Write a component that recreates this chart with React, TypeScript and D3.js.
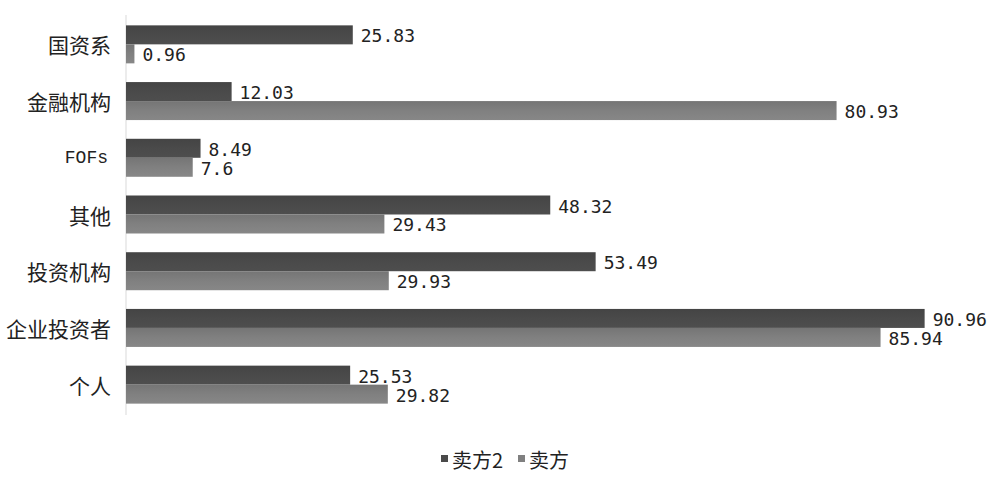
import React from 'react';
import * as d3 from 'd3';

const categories = ['国资系', '金融机构', 'FOFs', '其他', '投资机构', '企业投资者', '个人'];
const seller2 = [25.83, 12.03, 8.49, 48.32, 53.49, 90.96, 25.53];
const seller = [0.96, 80.93, 7.6, 29.43, 29.93, 85.94, 29.82];
const seriesNames = ['卖方2', '卖方'];
const seriesColors = ['#4a4a4a', '#808080'];

const W = 995;
const H = 477;

// latin-only labels are drawn in a mono face, like the half-width glyphs of the source
const isLatin = (s: string) => /^[\x00-\x7f]+$/.test(s);

const App: React.FC = () => {
  const x = d3.scaleLinear().domain([0, 100]).range([126, 1004]);
  const y = d3.scaleBand<string>().domain(categories).range([16, 413]).paddingInner(0.33).paddingOuter(0.165);
  const sub = d3.scaleBand<number>().domain([0, 1]).range([0, y.bandwidth()]);
  const fmt = (v: number) => String(v);

  return (
    <svg width={W} height={H} style={{ position: 'absolute', left: 0, top: 0, background: '#fff' }}>
      <defs>
        {seriesColors.map((c, i) => (
          <linearGradient key={i} id={`g${i}`} x1="0" y1="0" x2="0" y2="1">
            <stop offset="0" stopColor={d3.color(c)!.darker(0.25).toString()} />
            <stop offset="0.5" stopColor={c} />
            <stop offset="1" stopColor={d3.color(c)!.brighter(0.15).toString()} />
          </linearGradient>
        ))}
      </defs>
      <line x1={x(0)} x2={x(0)} y1={15} y2={415} stroke="#d9d9d9" strokeWidth={1} />
      {categories.map((cat, ci) => {
        const vals = [seller2[ci], seller[ci]];
        const y0 = y(cat)!;
        const latin = isLatin(cat);
        return (
          <g key={cat}>
            <text
              x={latin ? 108 : 111}
              y={y0 + y.bandwidth() / 2}
              textAnchor="end"
              dominantBaseline="central"
              fontFamily={latin ? "'Liberation Mono', monospace" : "'Noto Sans CJK SC', sans-serif"}
              fontSize={latin ? 18 : 21}
              fill="#222"
            >
              {cat}
            </text>
            {vals.map((v, si) => (
              <g key={si}>
                <rect
                  x={x(0)}
                  y={y0 + sub(si)!}
                  width={x(v) - x(0)}
                  height={sub.bandwidth()}
                  fill={`url(#g${si})`}
                />
                <text
                  x={x(v) + 8}
                  y={y0 + sub(si)! + sub.bandwidth() / 2 + 1}
                  dominantBaseline="central"
                  fontFamily="'DejaVu Sans Mono', monospace"
                  fontSize={18}
                  fill="#222"
                >
                  {fmt(v)}
                </text>
              </g>
            ))}
          </g>
        );
      })}
      <g fontFamily="'Noto Sans CJK SC', sans-serif" fontSize={20} fill="#222">
        <rect x={441} y={455} width={7} height={7} fill={seriesColors[0]} />
        <text x={452} y={459} dominantBaseline="central">{seriesNames[0]}</text>
        <rect x={518} y={455} width={7} height={7} fill={seriesColors[1]} />
        <text x={529} y={459} dominantBaseline="central">{seriesNames[1]}</text>
      </g>
    </svg>
  );
};

export default App;
